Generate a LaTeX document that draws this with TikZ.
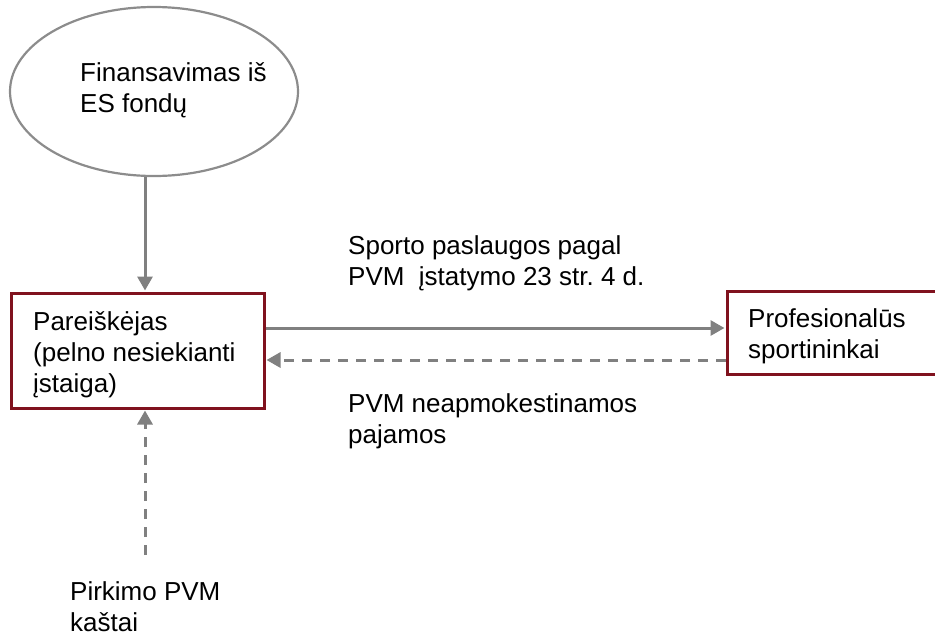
\documentclass[tikz,border=0pt]{standalone}
\usepackage{fontspec}
\setmainfont{Liberation Sans}
\usetikzlibrary{arrows.meta,shapes.geometric}
\definecolor{boxred}{RGB}{128,18,30}
\definecolor{flowgray}{RGB}{128,128,128}
\definecolor{rimgray}{RGB}{140,140,140}
\frenchspacing
\tikzset{
  % the base anchor of a multi-line node sits on its last line
  txt/.style={anchor=base west,inner sep=0pt,align=left,
    font=\fontsize{26}{31}\selectfont},
  party/.style={draw=boxred,line width=3pt,rectangle,inner sep=0pt},
  source/.style={draw=rimgray,line width=2.2pt,ellipse,inner sep=0pt},
  flow/.style={draw=flowgray,line width=3pt,
    -{Triangle[length=14pt,width=15pt]},shorten >=1pt},
  backflow/.style={flow,dash pattern=on 10pt off 8pt},
}
\begin{document}
\begin{tikzpicture}[x=1pt,y=-1pt]
  \useasboundingbox (0,0) rectangle (935,635);
  \clip (0,0) rectangle (935,635);

  % funding source
  \node[source,minimum width=288pt,minimum height=169pt] (fund) at (154,91.5) {};
  \node[txt] (fundtxt) at (80,112) {Finansavimas iš\\ES fondų};

  % applicant and athletes
  \node[party,minimum width=253pt,minimum height=115pt] (appl) at (137.5,350.5) {};
  \node[txt] (appltxt) at (33,392) {Pareiškėjas\\(pelno nesiekianti\\įstaiga)};

  \node[party,minimum width=232pt,minimum height=83pt] (ath) at (843,332.5) {};
  \node[txt] (athtxt) at (748,358) {Profesionalūs\\sportininkai};

  % flow labels
  \node[txt] (svc) at (348,285) {Sporto paslaugos pagal\\PVM\ \ įstatymo 23 str. 4 d.};
  \node[txt] (inc) at (348,443) {PVM neapmokestinamos\\pajamos};
  \node[txt] (vat) at (70,631) {Pirkimo PVM\\kaštai};

  \coordinate (vatstart) at (145,555);

  % connectors
  \draw[flow] (fund.south -| vatstart) -- (appl.north -| vatstart);
  \draw[flow] (appl.east |- 0,328) -- (ath.west |- 0,328);
  \draw[backflow] (ath.west |- 0,360) -- (appl.east |- 0,360);
  \draw[backflow] (vatstart) -- (appl.south -| vatstart);
\end{tikzpicture}
\end{document}
